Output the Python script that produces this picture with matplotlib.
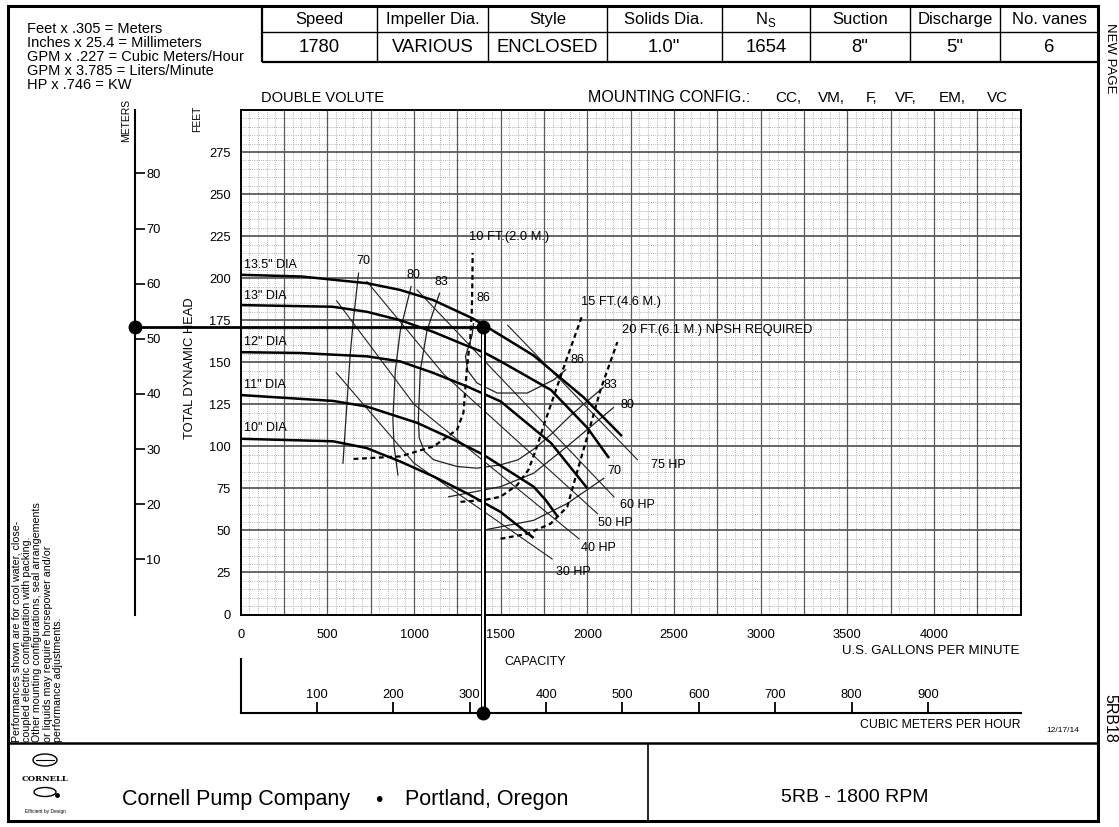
import matplotlib
matplotlib.use("Agg")
import matplotlib.pyplot as plt
import numpy as np
from matplotlib.patches import Rectangle, Ellipse

plt.rcParams['font.family'] = ['Liberation Sans', 'DejaVu Sans']
plt.rcParams['mathtext.fontset'] = 'custom'
plt.rcParams['mathtext.rm'] = 'Liberation Sans'

W, H = 1119, 827

# ---------------- data ----------------
gpm_ticks = [0, 500, 1000, 1500, 2000, 2500, 3000, 3500, 4000]
feet_ticks = [0, 25, 50, 75, 100, 125, 150, 175, 200, 225, 250, 275]
meter_ticks = [10, 20, 30, 40, 50, 60, 70, 80]
m3h_ticks = [100, 200, 300, 400, 500, 600, 700, 800, 900]

dia_labels = ['13.5" DIA', '13" DIA', '12" DIA', '11" DIA', '10" DIA']
dia_label_ft = [208, 189.6, 162, 136.6, 111]

d135_q = [0, 350, 730, 920, 1110, 1340, 1500, 1690, 1980, 2200]
d135_h = [202, 201, 197, 193, 187, 176, 166, 154, 129, 106]
d13_q = [0, 530, 728, 920, 1112, 1300, 1400, 1500, 1790, 2000, 2125]
d13_h = [184, 183, 180, 175, 168, 160, 156, 150.5, 133.5, 111, 93]
d12_q = [0, 344, 730, 920, 1110, 1306, 1500, 1790, 2000]
d12_h = [156, 155.5, 153.5, 150.5, 143.7, 135.6, 126.7, 102, 75]
d11_q = [0, 533, 726, 1017, 1210, 1400, 1690, 1760, 1830]
d11_h = [130.5, 127, 123.7, 114, 104.9, 95, 76, 68, 58]
d10_q = [0, 533, 726, 920, 1114, 1306, 1499, 1653, 1690]
d10_h = [104.5, 103, 99, 91, 82, 72, 61, 48.5, 45.5]

e70a_q = [680, 650, 632, 612, 590]
e70a_h = [203, 175, 155, 124, 90]
e80a_q = [983, 921, 892, 878, 885, 907]
e80a_h = [195, 169, 145, 116, 100, 83]
e83_q = [1147, 1075, 1036, 1025, 1030, 1060, 1113, 1249, 1364, 1499, 1600, 1700, 1800, 1900, 2000, 2092]
e83_h = [191, 169, 145, 116, 105, 97, 92, 88, 87, 89, 92, 99, 108, 118, 127, 135]
e86_q = [1343, 1335, 1297, 1310, 1364, 1480, 1653, 1807, 1875]
e86_h = [173, 166, 153.5, 145, 137.6, 131.7, 131.7, 139.6, 145.5]
e80b_q = [1200, 1499, 1690, 1884, 2150]
e80b_h = [70, 76, 84, 100, 123]
e70b_q = [1393, 1690, 1884, 2095]
e70b_h = [50, 56, 66, 81]
eff_labels = ['70', '80', '83', '86', '86', '83', '80', '70']
eff_label_q = [707, 996, 1158, 1400, 1944, 2135, 2233, 2158]
eff_label_h = [210, 202, 198, 188.4, 151.5, 136.6, 124.7, 85.4]

n10_q = [651, 920, 1114, 1249, 1285, 1306, 1325, 1333, 1337, 1338]
n10_h = [92.5, 94, 100, 110, 120, 147.5, 165, 180, 200, 215]
n15_q = [1268, 1402, 1499, 1595, 1660, 1710, 1750, 1884, 1971]
n15_h = [67, 68, 70, 77, 86, 100, 113, 153, 178]
n20_q = [1499, 1653, 1788, 1884, 1922, 2000, 2077, 2173]
n20_h = [45, 48, 54, 64, 78, 106, 134, 162]
npsh_labels = ['10 FT.(2.0 M.)', '15 FT.(4.6 M.)', '20 FT.(6.1 M.) NPSH REQUIRED']
npsh_label_q = [1315, 1961, 2202]
npsh_label_h = [224.7, 185.6, 169.3]

hp75_q = [1540, 2289]
hp75_h = [172, 92]
hp60_q = [1017, 1400, 2153]
hp60_h = [193, 151.5, 70]
hp50_q = [728, 1170, 2058]
hp50_h = [198, 143, 60]
hp40_q = [553, 1000, 1952]
hp40_h = [186.6, 125, 45]
hp30_q = [551, 1000, 1797]
hp30_h = [143.8, 90, 33]
hp_labels = ['75 HP', '60 HP', '50 HP', '40 HP', '30 HP']
hp_label_q = [2470, 2291, 2164, 2065, 1921]
hp_label_h = [89, 65.2, 54.5, 39.6, 25.3]

op_q = 1400
op_h = 171

table_head = ['Speed', 'Impeller Dia.', 'Style', 'Solids Dia.', r'N$_\mathrm{S}$', 'Suction', 'Discharge', 'No. vanes']
table_vals = ['1780', 'VARIOUS', 'ENCLOSED', '1.0"', '1654', '8"', '5"', '6']

conv_lines = ['Feet x .305 = Meters', 'Inches x 25.4 = Millimeters',
              'GPM x .227 = Cubic Meters/Hour', 'GPM x 3.785 = Liters/Minute',
              'HP x .746 = KW']
note_lines = ['Performances shown are for cool water, close-',
              'coupled electric configuration with packing.',
              'Other mounting configurations, seal arrangements',
              'or liquids may require horsepower and/or',
              'performance adjustments.']
mount_items = ['CC,', 'VM,', 'F,', 'VF,', 'EM,', 'VC']
mount_x = [775, 818, 866, 895, 939, 987]

# ---------------- figure ----------------
fig = plt.figure(figsize=(W / 100, H / 100), dpi=100)
fig.patch.set_facecolor('white')

pg = fig.add_axes([0, 0, 1, 1])
pg.set_xlim(0, W)
pg.set_ylim(H, 0)
pg.axis('off')

def px(x0, y0, x1, y1, lw=1.0, c='black', **kw):
    pg.plot([x0, x1], [y0, y1], color=c, lw=lw, solid_capstyle='butt', **kw)

# page border
pg.add_patch(Rectangle((8, 6), 1090, 815, fill=False, lw=2.2, ec='black'))
# header table
cols = [261.7, 376.7, 488, 606.7, 721.7, 810, 910, 1000, 1098]
px(cols[0], 6, cols[0], 61.7, lw=1.6)
px(cols[0], 61.7, 1098, 61.7, lw=1.6)
px(cols[0], 31.7, 1098, 31.7, lw=1.0)
for xc in cols[1:-1]:
    px(xc, 6, xc, 61.7, lw=1.0)
for i in range(8):
    cx = (cols[i] + cols[i + 1]) / 2
    pg.text(cx, 19.5, table_head[i], ha='center', va='center', fontsize=12)
    pg.text(cx, 47, table_vals[i], ha='center', va='center', fontsize=13.3)

for i, t in enumerate(conv_lines):
    pg.text(27, 29 + i * 14, t, ha='left', va='center', fontsize=10.5)

pg.text(1110, 58, 'NEW PAGE', rotation=-90, ha='center', va='center', fontsize=9.5)
pg.text(1110, 718, '5RB18', rotation=-90, ha='center', va='center', fontsize=11.5)
pg.text(1063, 731, '12/17/14', ha='center', va='center', fontsize=6)

# footer
px(8, 743, 1098, 743, lw=1.8)
px(648, 743, 648, 821, lw=1.2)
pg.text(122, 800, 'Cornell Pump Company', ha='left', va='center', fontsize=15.5)
pg.text(379, 800, '\u2022', ha='center', va='center', fontsize=15)
pg.text(568, 800, 'Portland, Oregon', ha='right', va='center', fontsize=15.5)
pg.text(855, 797, '5RB - 1800 RPM', ha='center', va='center', fontsize=14)
# logo
pg.add_patch(Ellipse((45, 760), 24, 12, fill=False, lw=1.0))
pg.plot([36, 54], [760, 760], color='black', lw=0.8)
pg.text(45, 779, 'CORNELL', ha='center', va='center', fontsize=6, family='DejaVu Serif', weight='bold')
pg.add_patch(Ellipse((45, 792), 22, 9, fill=False, lw=1.0))
pg.plot([57], [795], 'o', color='black', ms=2.5)
pg.text(45, 811, 'Efficient by Design', ha='center', va='center', fontsize=3.5)

for i, t in enumerate(note_lines):
    pg.text(16.5 + i * 10.4, 742, t, rotation=90, rotation_mode='anchor', ha='left', va='center', fontsize=7.7)

pg.text(261, 98, 'DOUBLE VOLUTE', ha='left', va='center', fontsize=10.5)
pg.text(588, 98, 'MOUNTING CONFIG.:', ha='left', va='center', fontsize=11.5)
for t, xx in zip(mount_items, mount_x):
    pg.text(xx, 98, t, ha='left', va='center', fontsize=11)

pg.text(126, 120, 'METERS', rotation=90, ha='center', va='center', fontsize=7.5)
pg.text(197, 119, 'FEET', rotation=90, ha='center', va='center', fontsize=7.5)
pg.text(190, 368, 'TOTAL DYNAMIC HEAD', rotation=90, ha='center', va='center', fontsize=9.3)

# ---------------- main axes ----------------
L, R, T, B = 240.7, 1020.7, 110.0, 614.5
ax = fig.add_axes([L / W, 1 - B / H, (R - L) / W, (B - T) / H])
ax.set_xlim(0, 4500)
ax.set_ylim(0, 300)
ax.set_facecolor('none')

for q in np.arange(50, 4500, 50):
    if q % 250:
        ax.axvline(q, color='#9a9a9a', lw=0.6, ls=(0, (1, 1.6)), zorder=1)
for h in np.arange(5, 300, 5):
    if h % 25:
        ax.axhline(h, color='#9a9a9a', lw=0.6, ls=(0, (1, 1.6)), zorder=1)
for q in np.arange(250, 4500, 250):
    ax.axvline(q, color='#5a5a5a', lw=0.9, zorder=1.5)
for h in np.arange(25, 300, 25):
    ax.axhline(h, color='#5a5a5a', lw=1.3, zorder=1.5)

for s in ax.spines.values():
    s.set_linewidth(1.4)
ax.set_xticks(gpm_ticks)
ax.set_yticks(feet_ticks)
ax.tick_params(length=0, labelsize=9.3, pad=7)
ax.tick_params(axis='x', pad=10.5)

# head curves
for q, h in [(d135_q, d135_h), (d13_q, d13_h), (d12_q, d12_h), (d11_q, d11_h), (d10_q, d10_h)]:
    ax.plot(q, h, color='black', lw=1.8, zorder=5, solid_capstyle='butt', solid_joinstyle='round')
for t, y in zip(dia_labels, dia_label_ft):
    ax.text(20, y, t, ha='left', va='center', fontsize=9)

# efficiency curves
for q, h in [(e70a_q, e70a_h), (e80a_q, e80a_h), (e83_q, e83_h), (e86_q, e86_h), (e80b_q, e80b_h), (e70b_q, e70b_h)]:
    ax.plot(q, h, color='#222222', lw=0.9, zorder=4)
for t, q, h in zip(eff_labels, eff_label_q, eff_label_h):
    ax.text(q, h, t, ha='center', va='center', fontsize=9)

# npsh
for q, h in [(n10_q, n10_h), (n15_q, n15_h), (n20_q, n20_h)]:
    ax.plot(q, h, color='black', lw=1.6, ls=(0, (2.2, 1.6)), zorder=4)
for t, q, h in zip(npsh_labels, npsh_label_q, npsh_label_h):
    ax.text(q, h, t, ha='left', va='center', fontsize=9.3)

# hp lines
for q, h in [(hp75_q, hp75_h), (hp60_q, hp60_h), (hp50_q, hp50_h), (hp40_q, hp40_h), (hp30_q, hp30_h)]:
    ax.plot(q, h, color='#222222', lw=0.8, zorder=4)
for t, q, h in zip(hp_labels, hp_label_q, hp_label_h):
    ax.text(q, h, t, ha='center', va='center', fontsize=9)

ax.text(1700, -28, 'CAPACITY', ha='center', va='center', fontsize=9, clip_on=False)
ax.text(4490, -21.5, 'U.S. GALLONS PER MINUTE', ha='right', va='center', fontsize=9.5, clip_on=False)

# ---------------- meters axis ----------------
XM = 135.0
axm = fig.add_axes([XM / W, 1 - B / H, 0.0001, (B - T) / H])
axm.set_ylim(0, 300 * 0.305)
axm.set_xticks([])
for k in ['left', 'top', 'bottom']:
    axm.spines[k].set_visible(False)
axm.spines['right'].set_linewidth(1.5)
axm.yaxis.tick_right()
axm.set_yticks(meter_ticks)
axm.tick_params(axis='y', direction='out', length=7, width=1.2, labelsize=9.3, pad=1)
axm.set_facecolor('none')

# ---------------- cubic metres axis ----------------
YC = 713.0
axc = fig.add_axes([L / W, 1 - YC / H, (R - L) / W, 11 / H])
axc.set_xlim(0, 4500 * 0.227)
axc.set_yticks([])
for k in ['right', 'top', 'left']:
    axc.spines[k].set_visible(False)
axc.spines['bottom'].set_linewidth(1.5)
axc.set_xticks(m3h_ticks)
axc.tick_params(axis='x', direction='in', length=8, width=1.3, bottom=True, top=False,
                labelbottom=False, labeltop=True, labelsize=9.3, pad=1)
axc.set_facecolor('none')
px(L, 658, L, YC, lw=1.5)
axc.text(1.0, -1.1, 'CUBIC METERS PER HOUR', transform=axc.transAxes, ha='right', va='center', fontsize=8.8)

# ---------------- operating point ----------------
q_left = (XM - L) / (R - L) * 4500
h_bot = (B - YC) / (B - T) * 300
ax.plot([q_left, op_q], [op_h, op_h], color='black', lw=2.0, clip_on=False, zorder=8)
ax.plot([op_q, op_q], [op_h, h_bot], color='black', lw=3.6, clip_on=False, zorder=8, solid_capstyle='butt')
ax.plot([op_q, op_q], [op_h, h_bot], color='white', lw=1.4, clip_on=False, zorder=8.5, solid_capstyle='butt')
ax.plot([q_left, op_q, op_q], [op_h, op_h, h_bot], 'o', color='black', ms=9, clip_on=False, zorder=9)

fig.savefig('out.png', dpi=100)
